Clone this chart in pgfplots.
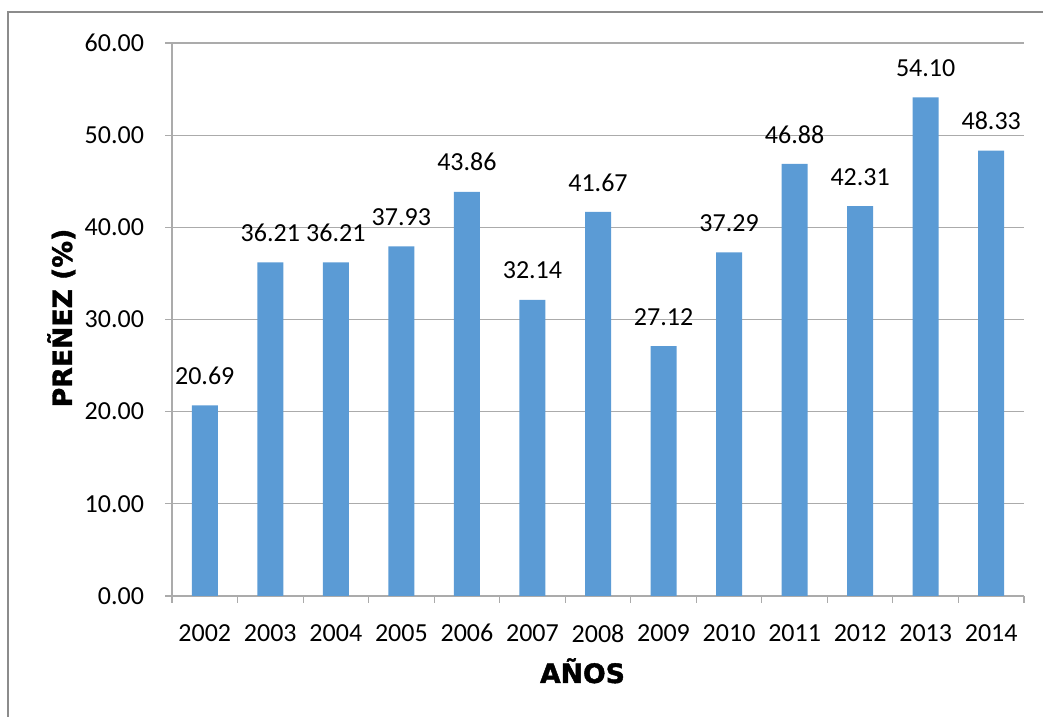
\documentclass[border=0pt]{standalone}
\usepackage{pgfplots}
\pgfplotsset{compat=1.18}
\usepackage{fontspec}
\setmainfont{Carlito}
\newfontfamily\labfont{DejaVu Sans Bold}[FakeBold=1.6]
\definecolor{barblue}{HTML}{5B9BD5}
\definecolor{gridgray}{HTML}{ABABAB}
\definecolor{framegray}{HTML}{8C8C8C}
\begin{document}
\begin{tikzpicture}[x=1pt,y=1pt]
\path[use as bounding box] (0,0) rectangle (782.25,537.75);
\draw[framegray, line width=0.8pt] (6,0) -- (6,528.75) -- (782.25,528.75);
\begin{axis}[
  at={(129pt,90.75pt)}, anchor=south west,
  scale only axis, width=639pt, height=414.75pt,
  ybar, bar width=19.5pt,
  xmin=-0.5, xmax=12.5, ymin=0, ymax=60,
  enlarge x limits=false, enlarge y limits=false,
  axis x line*=bottom, axis y line*=left,
  axis line style={gridgray, line width=0.8pt},
  xtick={0,...,12},
  xticklabels={2002,2003,2004,2005,2006,2007,2008,2009,2010,2011,2012,2013,2014},
  minor xtick={-0.5,0.5,...,12.5},
  major x tick style={draw=none},
  minor tick length=5.25pt,
  tick align=outside,
  tick style={gridgray, line width=0.8pt},
  ytick={0,10,...,60},
  major tick length=5.25pt,
  ymajorgrids, grid style={gridgray, line width=0.8pt},
  /pgf/number format/.cd, fixed, zerofill, precision=2, assume math mode=true, /pgfplots/.cd,
  ticklabel style={font=\fontsize{19.5pt}{22pt}\selectfont},
  xticklabel style={yshift=-12.5pt},
  yticklabel style={xshift=-12.25pt},
  nodes near coords,
  nodes near coords style={font=\fontsize{19.5pt}{22pt}\selectfont, yshift=12pt},
  xlabel={AÑOS}, ylabel={PREÑEZ (\%)},
  xlabel style={font=\labfont\fontsize{20pt}{24pt}\selectfont, at={(axis description cs:0.4818,-0.1573)}, anchor=base},
  ylabel style={font=\labfont\fontsize{20pt}{24pt}\selectfont, at={(axis description cs:-0.1174,0.5027)}, anchor=base, rotate=0},
]
\addplot[fill=barblue, draw=none] coordinates {
(0,20.69) (1,36.21) (2,36.21) (3,37.93) (4,43.86) (5,32.14) (6,41.67)
(7,27.12) (8,37.29) (9,46.88) (10,42.31) (11,54.10) (12,48.33)};
\end{axis}
\end{tikzpicture}
\end{document}
